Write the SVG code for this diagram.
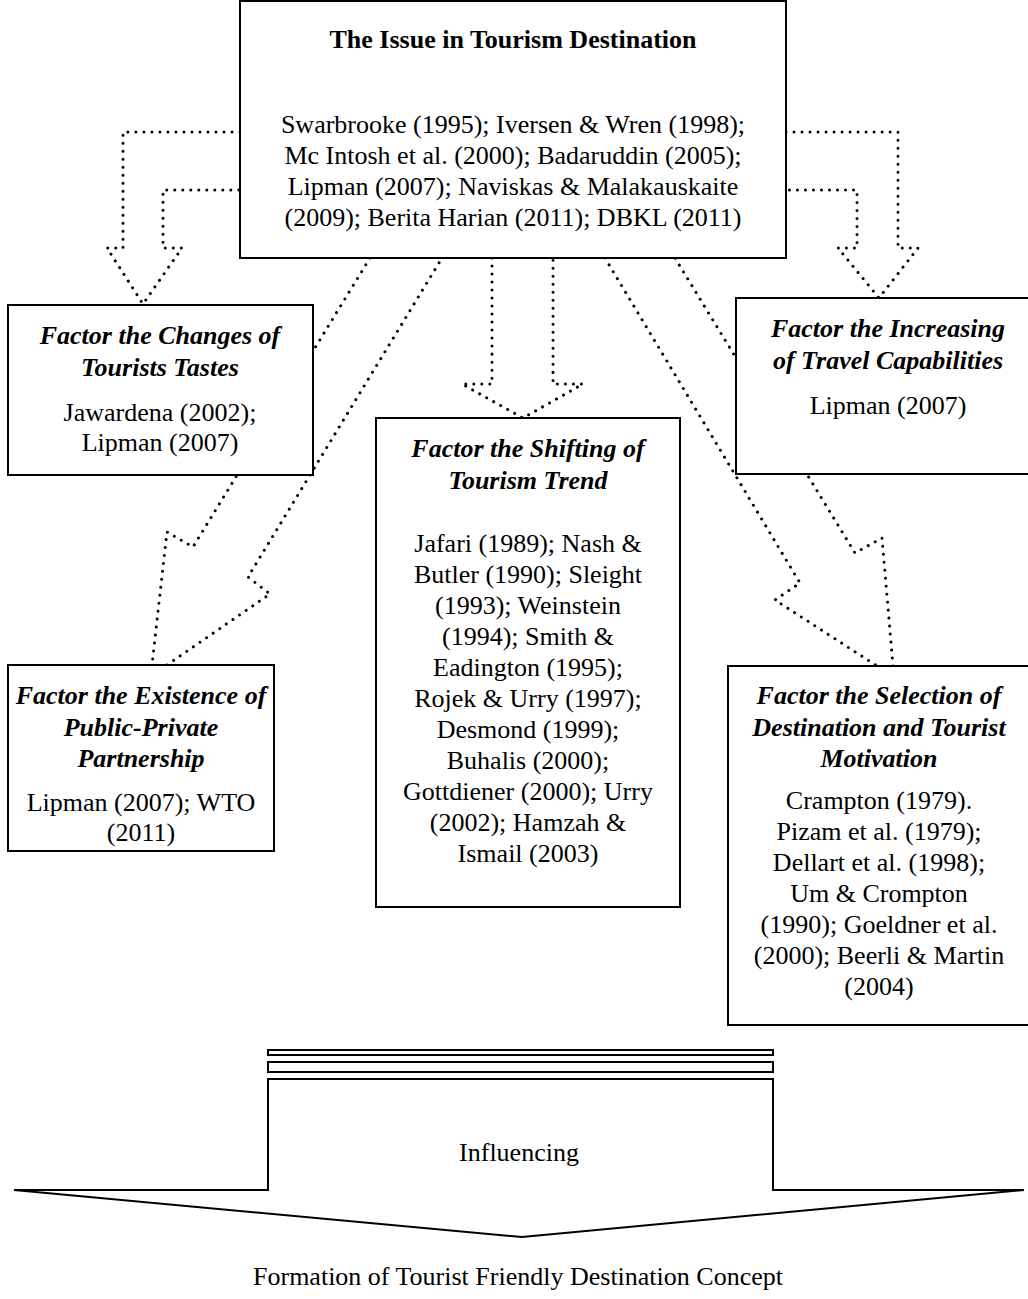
<svg xmlns="http://www.w3.org/2000/svg" width="1028" height="1299" viewBox="0 0 1028 1299">
<style>
.box{fill:#fff;stroke:#000;stroke-width:2}
.dot{fill:none;stroke:#000;stroke-width:3;stroke-dasharray:0.01 8;stroke-linecap:round;stroke-linejoin:round}
.t{font-family:"Liberation Serif","Times New Roman",serif;font-size:26px;text-anchor:middle;fill:#000}
.h{font-weight:bold;font-style:italic}
.b{font-weight:bold}
.solid{fill:#fff;stroke:#000;stroke-width:2}
</style>
<rect width="1028" height="1299" fill="#fff"/>
<g id="connectors">
<path class="dot" d="M240,132 H123 V248 H107 L143,304 L182,248 H163 V190 H240"/>
<path class="dot" d="M786,132 H898 V248 H918 L879,298 L838,248 H857 V190 H786"/>
<path class="dot" d="M492,258 V384 H462 L523,418 L583,384 H553 V258"/>
<path class="dot" d="M370,258 L193,547 L167,532 L152,665 M167,665 L270,594 L248,577 L442,258"/>
<path class="dot" d="M605,258 L800,583 L775,600 L877,666 M893,666 L882,538 L855,553 L675,258"/>
</g>
<g id="issue">
<rect class="box" x="240" y="1" width="546" height="257"/>
<text class="t b" x="513" y="48">The Issue in Tourism Destination</text>
<text class="t" x="513" y="133">Swarbrooke (1995); Iversen &amp; Wren (1998);</text>
<text class="t" x="513" y="164">Mc Intosh et al. (2000); Badaruddin (2005);</text>
<text class="t" x="513" y="195">Lipman (2007); Naviskas &amp; Malakauskaite</text>
<text class="t" x="513" y="226">(2009); Berita Harian (2011); DBKL (2011)</text>
</g>
<g id="tastes">
<rect class="box" x="8" y="305" width="305" height="170"/>
<text class="t h" x="160" y="344">Factor the Changes of</text>
<text class="t h" x="160" y="376">Tourists Tastes</text>
<text class="t" x="160" y="421">Jawardena (2002);</text>
<text class="t" x="160" y="451">Lipman (2007)</text>
</g>
<g id="travel">
<rect class="box" x="736" y="298" width="300" height="176"/>
<text class="t h" x="888" y="337">Factor the Increasing</text>
<text class="t h" x="888" y="369">of Travel Capabilities</text>
<text class="t" x="888" y="414">Lipman (2007)</text>
</g>
<g id="trend">
<rect class="box" x="376" y="418" width="304" height="489"/>
<text class="t h" x="528" y="457">Factor the Shifting of</text>
<text class="t h" x="528" y="489">Tourism Trend</text>
<text class="t" x="528" y="552">Jafari (1989); Nash &amp;</text>
<text class="t" x="528" y="583">Butler (1990); Sleight</text>
<text class="t" x="528" y="614">(1993); Weinstein</text>
<text class="t" x="528" y="645">(1994); Smith &amp;</text>
<text class="t" x="528" y="676">Eadington (1995);</text>
<text class="t" x="528" y="707">Rojek &amp; Urry (1997);</text>
<text class="t" x="528" y="738">Desmond (1999);</text>
<text class="t" x="528" y="769">Buhalis (2000);</text>
<text class="t" x="528" y="800">Gottdiener (2000); Urry</text>
<text class="t" x="528" y="831">(2002); Hamzah &amp;</text>
<text class="t" x="528" y="862">Ismail (2003)</text>
</g>
<g id="partnership">
<rect class="box" x="8" y="665" width="266" height="186"/>
<text class="t h" x="141" y="704">Factor the Existence of</text>
<text class="t h" x="141" y="736">Public-Private</text>
<text class="t h" x="141" y="767">Partnership</text>
<text class="t" x="141" y="811">Lipman (2007); WTO</text>
<text class="t" x="141" y="841">(2011)</text>
</g>
<g id="motivation">
<rect class="box" x="728" y="666" width="308" height="359"/>
<text class="t h" x="879" y="704">Factor the Selection of</text>
<text class="t h" x="879" y="736">Destination and Tourist</text>
<text class="t h" x="879" y="767">Motivation</text>
<text class="t" x="879" y="809">Crampton (1979).</text>
<text class="t" x="879" y="840">Pizam et al. (1979);</text>
<text class="t" x="879" y="871">Dellart et al. (1998);</text>
<text class="t" x="879" y="902">Um &amp; Crompton</text>
<text class="t" x="879" y="933">(1990); Goeldner et al.</text>
<text class="t" x="879" y="964">(2000); Beerli &amp; Martin</text>
<text class="t" x="879" y="995">(2004)</text>
</g>
<g id="influencing">
<rect class="solid" x="268" y="1050" width="505" height="5"/>
<rect class="solid" x="268" y="1062" width="505" height="10"/>
<polygon class="solid" points="14,1190 268,1190 268,1079 773,1079 773,1190 1024,1190 522,1237"/>
<text class="t" x="519" y="1161">Influencing</text>
</g>
<g id="formation">
<text class="t" x="518" y="1285">Formation of Tourist Friendly Destination Concept</text>
</g>
</svg>
